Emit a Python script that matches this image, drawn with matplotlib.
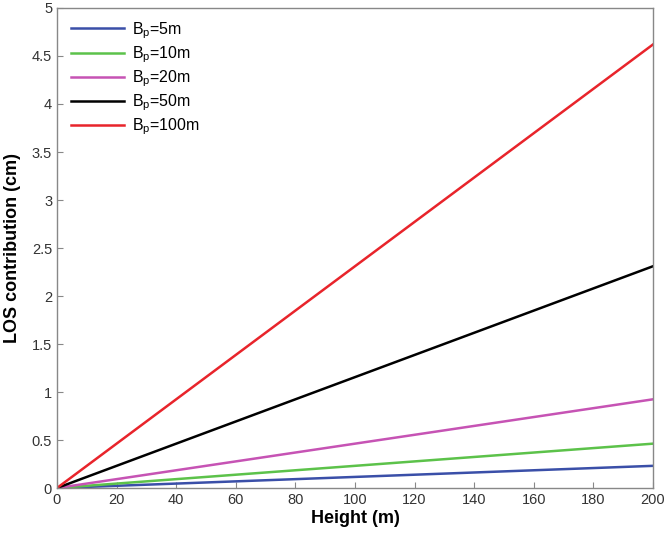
import matplotlib
matplotlib.use("Agg")
import matplotlib.pyplot as plt

# DATA
heights = [0, 200]
baselines = ["5", "10", "20", "50", "100"]
los_end = [0.231, 0.462, 0.924, 2.31, 4.62]
colors = ["#3a4fa8", "#5cc24a", "#c653b4", "#000000", "#e8242b"]

plt.rcParams["font.family"] = ["Liberation Sans", "DejaVu Sans"]

fig = plt.figure(figsize=(6.64, 5.33), dpi=100)
ax = fig.add_axes([0.0858, 0.0844, 0.8976, 0.9006])

for bp, v, c in zip(baselines, los_end, colors):
    ax.plot(heights, [0, v], color=c, lw=1.8,
            label=r"B$_\mathregular{p}$=" + bp + "m")

ax.set_xlim(0, 200)
ax.set_ylim(0, 5)
ax.set_xticks(range(0, 201, 20))
ax.set_yticks([0, 0.5, 1, 1.5, 2, 2.5, 3, 3.5, 4, 4.5, 5])
ax.set_yticklabels(["0", "0.5", "1", "1.5", "2", "2.5", "3", "3.5", "4", "4.5", "5"])
ax.tick_params(direction="in", length=4, color="#888888", labelsize=10.5,
               labelcolor="#333333")
for s in ax.spines.values():
    s.set_color("#888888")
    s.set_linewidth(1.0)

ax.set_xlabel("Height (m)", fontsize=13, fontweight="bold", labelpad=2)
ax.set_ylabel("LOS contribution (cm)", fontsize=13, fontweight="bold", labelpad=8)

ax.legend(loc="upper left", frameon=False, fontsize=11.5, handlelength=3.3,
          handletextpad=0.5, labelspacing=0.22, borderaxespad=0.3,
          bbox_to_anchor=(0.005, 0.998))

fig.savefig("out.png", dpi=100)
